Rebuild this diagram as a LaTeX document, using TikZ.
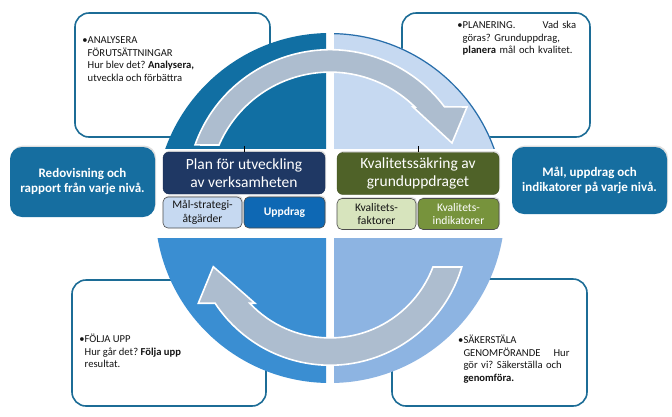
\documentclass[tikz,border=0pt]{standalone}
\usepackage{fontspec}
\setmainfont{Carlito}
\usetikzlibrary{shadows}
\frenchspacing
\definecolor{qone}{RGB}{17,111,163}
\definecolor{qtwo}{RGB}{198,217,241}
\definecolor{qtwoline}{RGB}{40,110,170}
\definecolor{qthree}{RGB}{58,142,210}
\definecolor{qfour}{RGB}{141,180,226}
\definecolor{arrowfill}{RGB}{173,189,207}
\definecolor{framecol}{RGB}{28,108,150}
\definecolor{sidecol}{RGB}{22,110,160}
\definecolor{navy}{RGB}{31,56,100}
\definecolor{paleblue}{RGB}{198,217,241}
\definecolor{midblue}{RGB}{14,104,180}
\definecolor{olive}{RGB}{79,98,40}
\definecolor{palegreen}{RGB}{215,228,189}
\definecolor{leaf}{RGB}{119,147,60}
\definecolor{textcol}{RGB}{20,20,20}
\begin{document}
\frenchspacing
\begin{tikzpicture}[x=1pt,y=1pt,yscale=-1,
  cornerbox/.style={draw=framecol, line width=1.6pt, fill=white, rounded corners=14pt, inner sep=0pt},
  cornertext/.style={anchor=north west, inner sep=0pt, align=left, font=\fontsize{10.6}{12.6}\selectfont, text=textcol},
  sidebox/.style={fill=sidecol, rounded corners=12pt, text=white, font=\bfseries\fontsize{13}{15}\selectfont, align=center, inner sep=0pt, drop shadow={opacity=0.25, shadow xshift=1pt, shadow yshift=1.5pt}},
  bigbox/.style={rounded corners=6pt, minimum width=162pt, minimum height=42pt, inner sep=0pt, align=center, text=white, font=\fontsize{15.5}{18.3}\selectfont, drop shadow={opacity=0.25, shadow xshift=1pt, shadow yshift=1.5pt}},
  smallbox/.style={rounded corners=5pt, minimum height=31pt, inner sep=0pt, align=center, font=\fontsize{11.6}{13.8}\selectfont, draw=black!70, line width=0.6pt, drop shadow={opacity=0.25, shadow xshift=1pt, shadow yshift=1.5pt}},
  cyclearrow/.style={fill=arrowfill, draw=white, line width=1.6pt, line join=miter},
  tick/.style={draw=black, line width=0.8pt}
]
\fill[white] (0,0) rectangle (672,416);
\useasboundingbox (0,0) rectangle (672,416);

% corner boxes (behind the circle)
\node[cornerbox, minimum width=195pt, minimum height=124pt] (tlbox) at (172.5,75) {};
\node[cornerbox, minimum width=188pt, minimum height=124pt] (trbox) at (496,75) {};
\node[cornerbox, minimum width=194pt, minimum height=126pt] (blbox) at (169,343) {};
\node[cornerbox, minimum width=195pt, minimum height=127pt] (brbox) at (489.5,342.5) {};

\node[cornertext] (tltext) at (87.5,34.4) {\strut\llap{\textbullet}ANALYSERA\\FÖRUTSÄTTNINGAR\\Hur blev det? \textbf{Analysera,}\\utveckla och förbättra};
\node[cornertext, text width=113.5pt] (trtext) at (462.5,19.4) {\strut\llap{\textbullet}PLANERING.\hspace{0pt plus 1filll}Vad ska\\göras? Grunduppdrag,\\\textbf{planera} mål och kvalitet.};
\node[cornertext] (bltext) at (84.5,333.4) {\strut\llap{\textbullet}FÖLJA UPP\\Hur går det? \textbf{Följa upp}\\resultat.};
\node[cornertext, text width=106pt] (brtext) at (463.3,334.4) {\strut\llap{\textbullet}SÄKERSTÄLA\\GENOMFÖRANDE\hspace{0pt plus 1filll}Hur\\gör vi? Säkerställa och\\\textbf{genomföra.}};

% circle quadrants
\coordinate (O) at (330,208);
\begin{scope}\clip (0,0) rectangle (326,148); \fill[qone] (O) circle[radius=175]; \end{scope}
\begin{scope}\clip (334,0) rectangle (672,148); \fill[qtwo] (O) circle[radius=175]; \draw[qtwoline, line width=1.2pt] (O) circle[radius=174.4]; \end{scope}
\begin{scope}\clip (0,238) rectangle (326,416); \fill[qthree] (O) circle[radius=175]; \end{scope}
\begin{scope}\clip (334,238) rectangle (672,416); \fill[qfour] (O) circle[radius=175]; \end{scope}

% cycle arrows
\begin{scope}[shift={(330,193)}]
\filldraw[cyclearrow] (199.6:143.3) arc[start angle=199.6, end angle=323, radius=143.3] -- (137,-86) -- (122,-50) -- (83,-86) -- (314.7:120.9) arc[start angle=314.7, end angle=203.4, radius=120.9] -- cycle;
\end{scope}
\begin{scope}[shift={(330,227.7)}]
\filldraw[cyclearrow] (16.6:137.5) arc[start angle=16.6, end angle=146.7, radius=137.5] -- (-131.7,75.6) -- (-116.7,39) -- (-75,75.6) -- (136.7:110.2) arc[start angle=136.7, end angle=20.9, radius=110.2] -- cycle;
\end{scope}

% central boxes
\node[bigbox, fill=navy, draw=navy!80!black] (plan) at (244,173) {Plan för utveckling\\av verksamheten};
\node[smallbox, fill=paleblue, minimum width=79pt, text=textcol] (mal) at (202.5,212.5) {Mål-strategi-\\åtgärder};
\node[smallbox, fill=midblue, minimum width=81pt, text=white, font=\bfseries\fontsize{11.6}{13.8}\selectfont] (uppdrag) at (284.5,212.5) {Uppdrag};
\node[bigbox, fill=olive, draw=olive!80!black] (kval) at (418,173.5) {Kvalitetssäkring av\\grunduppdraget};
\node[smallbox, fill=palegreen, minimum width=79pt, text=textcol] (faktorer) at (376.5,214) {Kvalitets-\\faktorer};
\node[smallbox, fill=leaf, minimum width=81pt, text=white] (indik) at (458.5,214) {Kvalitets-\\indikatorer};

\draw[tick] (plan.north) -- ++(0,-6);
\draw[tick] (kval.north) -- ++(0,-6);

% side boxes
\node[sidebox, minimum width=145pt, minimum height=70pt] (redov) at (82.5,182) {Redovisning och\\rapport från varje nivå.};
\node[sidebox, minimum width=155pt, minimum height=67pt] (malupp) at (589.5,180.5) {Mål, uppdrag och\\indikatorer på varje nivå.};
\end{tikzpicture}
\end{document}
